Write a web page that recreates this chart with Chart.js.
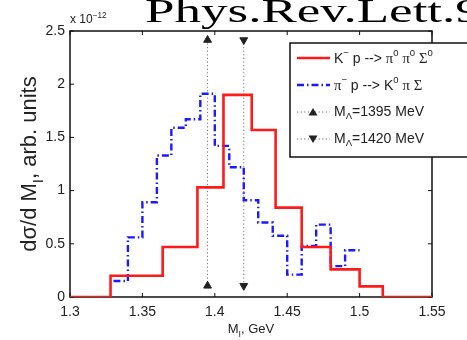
<!DOCTYPE html>
<html>
<head>
<meta charset="utf-8">
<script src="https://cdn.jsdelivr.net/npm/chart.js@4"></script>
<style>
  body { margin: 0; background: #fff; }
  #c { display: block; }
</style>
</head>
<body>
<canvas id="c" width="467" height="340"></canvas>
<script>
// K- p --> pi0 pi0 Sigma0 (red, solid), bin edges are not uniform
const redEdges  = [1.3, 1.328, 1.364, 1.388, 1.406, 1.4255, 1.442, 1.46, 1.48, 1.5, 1.516, 1.55];
const redValues = [0,   0.2,   0.47,  1.03,  1.9,   1.57,   0.84,  0.47, 0.26, 0.1, 0,     0];

// pi- p --> K0 pi Sigma (blue, dash-dot)
const blueEdges  = [1.33, 1.34, 1.35, 1.36, 1.37, 1.38, 1.39, 1.40, 1.41, 1.42, 1.43, 1.44, 1.45, 1.46, 1.47, 1.48, 1.49, 1.50];
const blueValues = [0.15, 0.56, 0.89, 1.33, 1.59, 1.67, 1.91, 1.42, 1.22, 0.91, 0.70, 0.575, 0.21, 0.48, 0.68, 0.29, 0.44, 0.44];

// M_Lambda markers
const markerMasses = [1.395, 1.42];
const markerLow = 0.105;
const markerHigh = 2.415;

const xTicks = [1.3, 1.35, 1.4, 1.45, 1.5, 1.55];
const yTicks = [0, 0.5, 1, 1.5, 2, 2.5];

const SANS = '"Liberation Sans", Arial, sans-serif';
const SERIF = '"Liberation Serif", "Times New Roman", serif';

// draws text made of pieces: [text, kind] kind = n | sup | sub | g (greek, serif)
function rich(ctx, x, y, parts, size, doDraw) {
  let cx = x;
  parts.forEach(([t, k]) => {
    let fs = size, dy = 0, fam = SANS;
    if (k === 'sup') { fs = size * 0.68; dy = -size * 0.42; }
    if (k === 'sub') { fs = size * 0.68; dy = size * 0.3; }
    if (k === 'g') { fam = SERIF; fs = size * 1.05; }
    ctx.font = fs + 'px ' + fam;
    if (doDraw !== false) ctx.fillText(t, cx, y + dy);
    cx += ctx.measureText(t).width;
  });
  return cx - x;
}

const decor = {
  id: 'decor',
  beforeDatasetsDraw(chart) {
    const ctx = chart.ctx, a = chart.chartArea;
    const xs = chart.scales.x, ys = chart.scales.y;
    ctx.save();
    ctx.strokeStyle = '#111';
    ctx.lineWidth = 1.5;
    ctx.strokeRect(a.left, a.top, a.right - a.left, a.bottom - a.top);
    ctx.lineWidth = 1;
    ctx.beginPath();
    xTicks.forEach(v => {
      const px = xs.getPixelForValue(v);
      ctx.moveTo(px, a.bottom); ctx.lineTo(px, a.bottom - 4);
      ctx.moveTo(px, a.top); ctx.lineTo(px, a.top + 4);
    });
    yTicks.forEach(v => {
      const py = ys.getPixelForValue(v);
      ctx.moveTo(a.left, py); ctx.lineTo(a.left + 4, py);
      ctx.moveTo(a.right, py); ctx.lineTo(a.right - 4, py);
    });
    ctx.stroke();
    ctx.restore();
  },
  afterDatasetsDraw(chart) {
    const ctx = chart.ctx;
    ctx.save();
    // legend box
    ctx.fillStyle = '#fff';
    ctx.fillRect(290, 43, 200, 114);
    ctx.strokeStyle = '#111';
    ctx.lineWidth = 1.5;
    ctx.strokeRect(290, 43, 200, 114);

    const rows = [58, 85, 112, 139];
    // red sample
    ctx.strokeStyle = '#ff1a1a'; ctx.lineWidth = 2.5;
    ctx.beginPath(); ctx.moveTo(297, rows[0]); ctx.lineTo(330, rows[0]); ctx.stroke();
    // blue sample
    ctx.strokeStyle = '#1a1aff'; ctx.setLineDash([7, 3, 1.5, 3]);
    ctx.beginPath(); ctx.moveTo(297, rows[1]); ctx.lineTo(330, rows[1]); ctx.stroke();
    // dotted + triangles
    ctx.strokeStyle = '#666'; ctx.lineWidth = 1; ctx.setLineDash([1.2, 2.4]);
    [2, 3].forEach(i => {
      ctx.beginPath(); ctx.moveTo(297, rows[i]); ctx.lineTo(330, rows[i]); ctx.stroke();
    });
    ctx.setLineDash([]);
    ctx.fillStyle = '#222';
    ctx.beginPath();
    ctx.moveTo(313, rows[2] - 4); ctx.lineTo(317.5, rows[2] + 3.5); ctx.lineTo(308.5, rows[2] + 3.5); ctx.closePath();
    ctx.fill();
    ctx.beginPath();
    ctx.moveTo(313, rows[3] + 4); ctx.lineTo(317.5, rows[3] - 3.5); ctx.lineTo(308.5, rows[3] - 3.5); ctx.closePath();
    ctx.fill();

    ctx.fillStyle = '#222';
    ctx.textBaseline = 'middle';
    const fs = 14;
    rich(ctx, 334, rows[0] + 1, [['K', 'n'], ['\u2212', 'sup'], [' p --> ', 'n'], ['\u03c0', 'g'], ['0', 'sup'], [' ', 'n'], ['\u03c0', 'g'], ['0', 'sup'], [' ', 'n'], ['\u03a3', 'g'], ['0', 'sup']], fs);
    rich(ctx, 334, rows[1] + 1, [['\u03c0', 'g'], ['\u2212', 'sup'], [' p --> K', 'n'], ['0', 'sup'], [' ', 'n'], ['\u03c0', 'g'], [' ', 'n'], ['\u03a3', 'g']], fs);
    rich(ctx, 334, rows[2], [['M', 'n'], ['\u039b', 'sub'], ['=1395 MeV', 'n']], fs);
    rich(ctx, 334, rows[3], [['M', 'n'], ['\u039b', 'sub'], ['=1420 MeV', 'n']], fs);
    ctx.restore();
  },
  afterDraw(chart) {
    const ctx = chart.ctx, a = chart.chartArea;
    ctx.save();
    ctx.fillStyle = '#222';
    ctx.textBaseline = 'alphabetic';
    // exponent
    rich(ctx, 70, 23, [['x 10', 'n'], ['\u221212', 'sup']], 12);
    // x title
    const xp = [['M', 'n'], ['I', 'sub'], [', GeV', 'n']];
    const wx = rich(ctx, 0, 0, xp, 13, false);
    rich(ctx, (a.left + a.right) / 2 - wx / 2, 333, xp, 13);
    // y title
    const yp = [['d\u03c3/d M', 'n'], ['I', 'sub'], [', arb. units', 'n']];
    const wy = rich(ctx, 0, 0, yp, 22, false);
    ctx.translate(36, (a.top + a.bottom) / 2);
    ctx.rotate(-Math.PI / 2);
    rich(ctx, -wy / 2, 0, yp, 22);
    ctx.restore();
    // journal stamp at top, stretched serif
    ctx.save();
    ctx.fillStyle = '#000';
    ctx.translate(145, 22);
    ctx.scale(1.56, 1);
    ctx.font = '34px ' + SERIF;
    ctx.fillText('Phys.Rev.Lett.9', 0, 0);
    ctx.restore();
  }
};

const pts = (xs, ys) => xs.map((x, i) => ({ x: x, y: ys[i] }));

const datasets = [
  {
    label: 'K- p --> pi0 pi0 Sigma0',
    data: pts(redEdges, redValues),
    stepped: true,
    borderColor: '#ff1a1a',
    borderWidth: 2.6,
    pointRadius: 0,
    fill: false
  },
  {
    label: 'pi- p --> K0 pi Sigma',
    data: pts(blueEdges, blueValues),
    stepped: true,
    borderColor: '#1a1aff',
    borderWidth: 2.4,
    borderDash: [7, 3, 1.5, 3],
    pointRadius: 0,
    fill: false
  }
];
markerMasses.forEach((m, i) => {
  datasets.push({
    label: 'M_Lambda=' + Math.round(m * 1000) + ' MeV',
    data: [{ x: m, y: markerLow }, { x: m, y: markerHigh }],
    borderColor: '#777',
    borderWidth: 1,
    borderDash: [1.2, 2.4],
    pointStyle: 'triangle',
    pointRadius: 4.5,
    pointRotation: i === 0 ? 0 : 180,
    pointBackgroundColor: '#222',
    pointBorderColor: '#222',
    pointBorderWidth: 1,
    fill: false
  });
});

new Chart(document.getElementById('c'), {
  type: 'line',
  data: { datasets },
  options: {
    responsive: false,
    animation: false,
    layout: { padding: { left: 0, top: 31, right: 35, bottom: 0 } },
    plugins: { legend: { display: false }, tooltip: { enabled: false } },
    scales: {
      x: {
        type: 'linear', min: 1.3, max: 1.55,
        afterBuildTicks: s => { s.ticks = xTicks.map(v => ({ value: v })); },
        afterFit: s => { s.height = 43; },
        grid: { display: false, drawTicks: false },
        border: { display: false },
        ticks: { padding: 7, color: '#222', font: { size: 14, family: SANS }, callback: v => String(v) }
      },
      y: {
        type: 'linear', min: 0, max: 2.5,
        afterBuildTicks: s => { s.ticks = yTicks.map(v => ({ value: v })); },
        afterFit: s => { s.width = 70; },
        grid: { display: false, drawTicks: false },
        border: { display: false },
        ticks: { padding: 5, color: '#222', font: { size: 14, family: SANS }, callback: v => String(v) }
      }
    }
  },
  plugins: [decor]
});
</script>
</body>
</html>
